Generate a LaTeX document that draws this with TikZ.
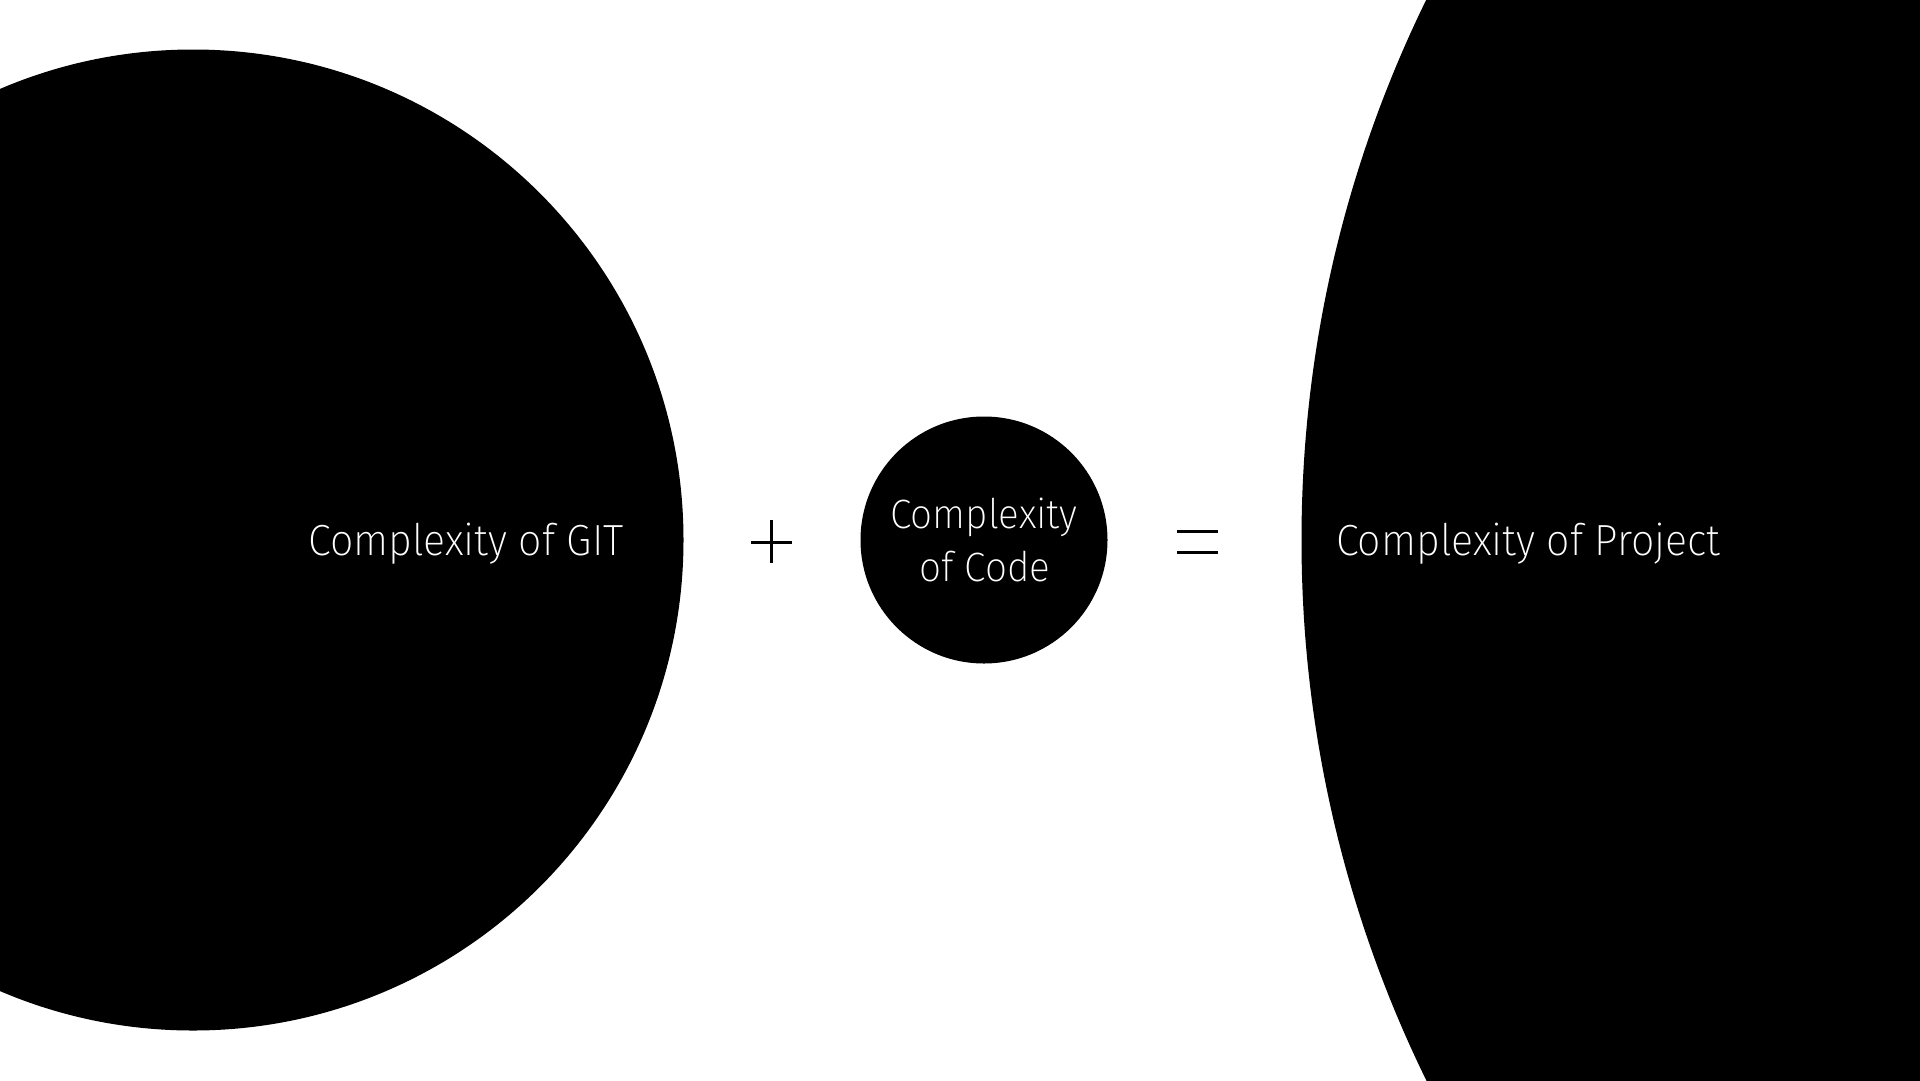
\documentclass[tikz,border=0pt]{standalone}
\usepackage{fontspec}
\setmainfont{Fira Sans ExtraLight}[FakeStretch=0.945]
\begin{document}
\begin{tikzpicture}[x=1pt,y=-1pt,
  blob/.style={fill=black},
  label/.style={text=white,inner sep=0pt,font=\fontsize{43.6}{52}\selectfont},
  smalllabel/.style={text=white,inner sep=0pt,font=\fontsize{41}{49}\selectfont},
  opline/.style={line width=3pt,draw=black}]
\fill[white] (0,0) rectangle (1920,1080);
\useasboundingbox (0,0) rectangle (1920,1080);
\begin{scope}
\clip (0,0) rectangle (1920,1080);
\fill[blob] (193,540) circle[radius=490.5];
\fill[blob] (984,540) circle[radius=123.5];
\fill[blob] (2531,540) circle[radius=1229.5];
\end{scope}
\node[label,anchor=base east] (git) at (624,555) {Complexity of GIT};
\node[label,anchor=base west] (proj) at (1336,555) {Complexity of Project};
\node[smalllabel,anchor=base] (codeA) at (984,528) {Complexity};
\node[smalllabel,anchor=base] (codeB) at (985,581) {of Code};
\draw[opline] (751,542) -- (791.7,542);
\draw[opline] (771.3,520) -- (771.3,563.3);
\draw[opline] (1177,531.7) -- (1217.7,531.7);
\draw[opline] (1177,552) -- (1217.7,552);
\end{tikzpicture}
\end{document}
